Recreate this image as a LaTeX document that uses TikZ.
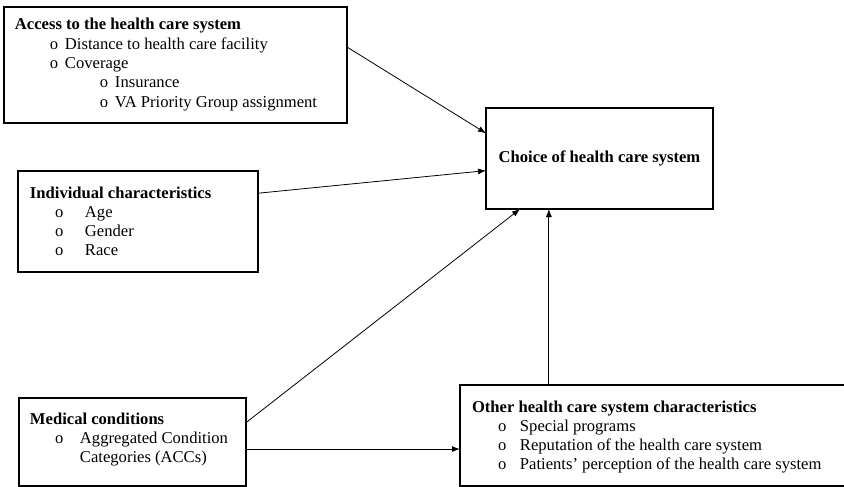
\documentclass[tikz,border=0pt]{standalone}
\usepackage{fontspec}
\setmainfont{Liberation Serif}
\usetikzlibrary{arrows.meta,calc}
\newcommand{\bul}[2]{\makebox[#1][l]{o}#2}
\begin{document}
\begin{tikzpicture}[x=1pt,y=-1pt,
  box/.style={draw, line width=1.1pt, inner sep=0pt, outer sep=0pt, anchor=north west},
  conn/.style={line width=0.8pt, -{Latex[length=8pt,width=6pt]}},
  txt/.style={anchor=base west, inner sep=0pt, outer sep=0pt, font=\fontsize{16.6}{19.3}\selectfont}]
\useasboundingbox (0,0) rectangle (844,487);
% boxes
\node[box, minimum width=343pt, minimum height=116pt] (A) at (4,7) {};
\node[box, minimum width=240pt, minimum height=101pt] (B) at (18,171) {};
\node[box, minimum width=227pt, minimum height=88pt] (C) at (19,398) {};
\node[box, minimum width=390pt, minimum height=101pt] (D) at (460,385) {};
\node[box, minimum width=227pt, minimum height=101pt] (E) at (486,108) {};
% texts
\node[txt] (Atxt) at (15,30) {\begin{tabular}[t]{@{}l@{}}
\textbf{Access to the health care system}\\
\hspace*{35pt}\bul{15pt}{Distance to health care facility}\\
\hspace*{35pt}\bul{15pt}{Coverage}\\
\hspace*{85pt}\bul{15pt}{Insurance}\\
\hspace*{85pt}\bul{15pt}{VA Priority Group assignment}
\end{tabular}};
\node[txt] (Btxt) at (30,198) {\begin{tabular}[t]{@{}l@{}}
\textbf{Individual characteristics}\\
\hspace*{25pt}\bul{30pt}{Age}\\
\hspace*{25pt}\bul{30pt}{Gender}\\
\hspace*{25pt}\bul{30pt}{Race}
\end{tabular}};
\node[txt] (Ctxt) at (30,424) {\begin{tabular}[t]{@{}l@{}}
\textbf{Medical conditions}\\
\hspace*{25pt}\bul{25pt}{Aggregated Condition}\\
\hspace*{50pt}Categories (ACCs)
\end{tabular}};
\node[txt] (Dtxt) at (472,412) {\begin{tabular}[t]{@{}l@{}}
\textbf{Other health care system characteristics}\\
\hspace*{26pt}\bul{22pt}{Special programs}\\
\hspace*{26pt}\bul{22pt}{Reputation of the health care system}\\
\hspace*{26pt}\bul{22pt}{Patients’ perception of the health care system}
\end{tabular}};
\node[inner sep=0pt, font=\fontsize{16.6}{19.3}\selectfont\bfseries] (Etxt) at (E.center) {Choice of health care system};
% connector points
\coordinate (aout) at ($(A.north east)!0.345!(A.south east)$);
\coordinate (ain) at ($(E.north west)!0.25!(E.south west)$);
\coordinate (bout) at ($(B.north east)!0.22!(B.south east)$);
\coordinate (bin) at ($(E.north west)!0.62!(E.south west)$);
\coordinate (cout) at ($(C.north east)!0.28!(C.south east)$);
\coordinate (cin) at ($(E.south west)!0.15!(E.south east)$);
\coordinate (cd) at ($(C.north east)!0.58!(C.south east)$);
\coordinate (din) at ($(E.south west)!0.277!(E.south east)$);
% connectors
\draw[conn] (aout) -- (ain);
\draw[conn] (bout) -- (bin);
\draw[conn] (cout) -- (cin);
\draw[conn] (cd) -- (cd -| D.west);
\draw[conn] (din |- D.north) -- (din);
\end{tikzpicture}
\end{document}
